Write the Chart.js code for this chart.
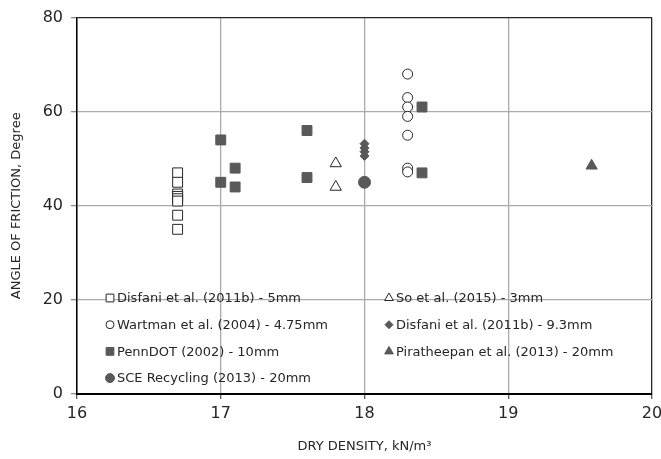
<!DOCTYPE html>
<html>
<head>
<meta charset="utf-8">
<script src="https://cdn.jsdelivr.net/npm/chart.js@4.4.0/dist/chart.umd.min.js"></script>
<style>
html,body{margin:0;padding:0;background:#fff}
#wrap{width:661px;height:459px}
</style>
</head>
<body>
<div id="wrap"><canvas id="chart"></canvas></div>
<script>
// dry density (kN/m3) vs angle of friction (degree)
const disfani5X = [16.7,16.7,16.7,16.7,16.7,16.7,16.7,16.7];
const disfani5Y = [47,45,42.5,42,41.5,41,38,35];
const soX = [17.8,17.8];
const soY = [49,44];
const wartmanX = [18.3,18.3,18.3,18.3,18.3,18.3,18.3];
const wartmanY = [68,63,61,59,55,48,47.2];
const disfani93X = [18,18,18,18];
const disfani93Y = [53.2,52.3,51.5,50.6];
const pennX = [17,17,17.1,17.1,17.6,17.6,18.4,18.4];
const pennY = [54,45,48,44,56,46,61,47];
const piraX = [19.58];
const piraY = [48.5];
const sceX = [18];
const sceY = [45];

const xTicks = [16,17,18,19,20];
const yTicks = [0,20,40,60,80];

const GREY = '#595959';
const FONT = 'DejaVu Sans';

function pts(xs, ys){ return xs.map((x,i)=>({x:x, y:ys[i]})); }

const series = [
  {label:'Disfani et al. (2011b) - 5mm', data:pts(disfani5X,disfani5Y), pointStyle:'rect', pointRadius:7, pointBackgroundColor:'#fff', pointBorderColor:'#262626', pointBorderWidth:1, lr:5.5},
  {label:'So et al. (2015) - 3mm', data:pts(soX,soY), pointStyle:'triangle', pointRadius:6.5, pointBackgroundColor:'#fff', pointBorderColor:'#262626', pointBorderWidth:1, lr:5},
  {label:'Wartman et al. (2004) - 4.75mm', data:pts(wartmanX,wartmanY), pointStyle:'circle', pointRadius:5, pointBackgroundColor:'#fff', pointBorderColor:'#262626', pointBorderWidth:1, lr:4},
  {label:'Disfani et al. (2011b) - 9.3mm', data:pts(disfani93X,disfani93Y), pointStyle:'rectRot', pointRadius:4.5, pointBackgroundColor:GREY, pointBorderColor:GREY, pointBorderWidth:1, lr:4},
  {label:'PennDOT (2002) - 10mm', data:pts(pennX,pennY), pointStyle:'rect', pointRadius:7, pointBackgroundColor:GREY, pointBorderColor:GREY, pointBorderWidth:1, lr:5.5},
  {label:'Piratheepan et al. (2013) - 20mm', data:pts(piraX,piraY), pointStyle:'triangle', pointRadius:6.5, pointBackgroundColor:GREY, pointBorderColor:GREY, pointBorderWidth:1, lr:5},
  {label:'SCE Recycling (2013) - 20mm', data:pts(sceX,sceY), pointStyle:'circle', pointRadius:6, pointBackgroundColor:GREY, pointBorderColor:GREY, pointBorderWidth:1, lr:4.5}
];

// legend drawn inside the plot, two columns
const insideLegend = {
  id:'insideLegend',
  afterDraw(chart){
    const ctx = chart.ctx, a = chart.chartArea;
    ctx.save();
    ctx.font = '13px "' + FONT + '"';
    ctx.textBaseline = 'middle';
    ctx.textAlign = 'left';
    chart.data.datasets.forEach((ds,i)=>{
      const col = i % 2, row = Math.floor(i/2);
      const mx = a.left + (col ? 312 : 33);
      const my = a.bottom - 96 + row*26.7;
      ctx.fillStyle = ds.pointBackgroundColor;
      ctx.strokeStyle = ds.pointBorderColor;
      ctx.lineWidth = 1;
      Chart.helpers.drawPoint(ctx, {pointStyle:ds.pointStyle, radius:ds.lr, borderWidth:1, rotation:0}, mx, my);
      ctx.fillStyle = '#262626';
      ctx.fillText(ds.label, mx + 7, my + 1);
    });
    ctx.restore();
  }
};

new Chart(document.getElementById('chart'), {
  type:'scatter',
  data:{ datasets: series },
  plugins:[insideLegend],
  options:{
    responsive:true,
    maintainAspectRatio:false,
    animation:false,
    layout:{ padding:{ top:16, right:9, left:0, bottom:0 } },
    plugins:{ legend:{ display:false }, tooltip:{ enabled:false } },
    scales:{
      x:{
        type:'linear', min:16, max:20,
        afterBuildTicks: s => { s.ticks = xTicks.map(v=>({value:v})); },
        afterFit: s => { s.height = 65; s.paddingRight = 9; s.paddingLeft = 0; },
        border:{ color:'#000', width:2 },
        grid:{ color: c => c.tick && c.tick.value===20 ? '#262626' : '#ababab', lineWidth:1.3, tickLength:5, tickColor:'#595959' },
        ticks:{ color:'#262626', font:{ family:FONT, size:16 }, padding:5 },
        title:{ display:true, text:'DRY DENSITY, kN/m³', color:'#262626', font:{ family:FONT, size:13 }, padding:{ top:10, bottom:5 } }
      },
      y:{
        min:0, max:80,
        afterBuildTicks: s => { s.ticks = yTicks.map(v=>({value:v})); },
        afterFit: s => { s.width = 77; },
        border:{ color:'#000', width:1.5 },
        grid:{ color: c => c.tick && c.tick.value===80 ? '#262626' : '#ababab', lineWidth:1.3, tickLength:6, tickColor:'#8c8c8c' },
        ticks:{ color:'#262626', font:{ family:FONT, size:16 }, padding:8 },
        title:{ display:true, text:'ANGLE OF FRICTION, Degree', color:'#262626', font:{ family:FONT, size:13 }, padding:{ top:9, bottom:4 } }
      }
    }
  }
});
</script>
</body>
</html>
